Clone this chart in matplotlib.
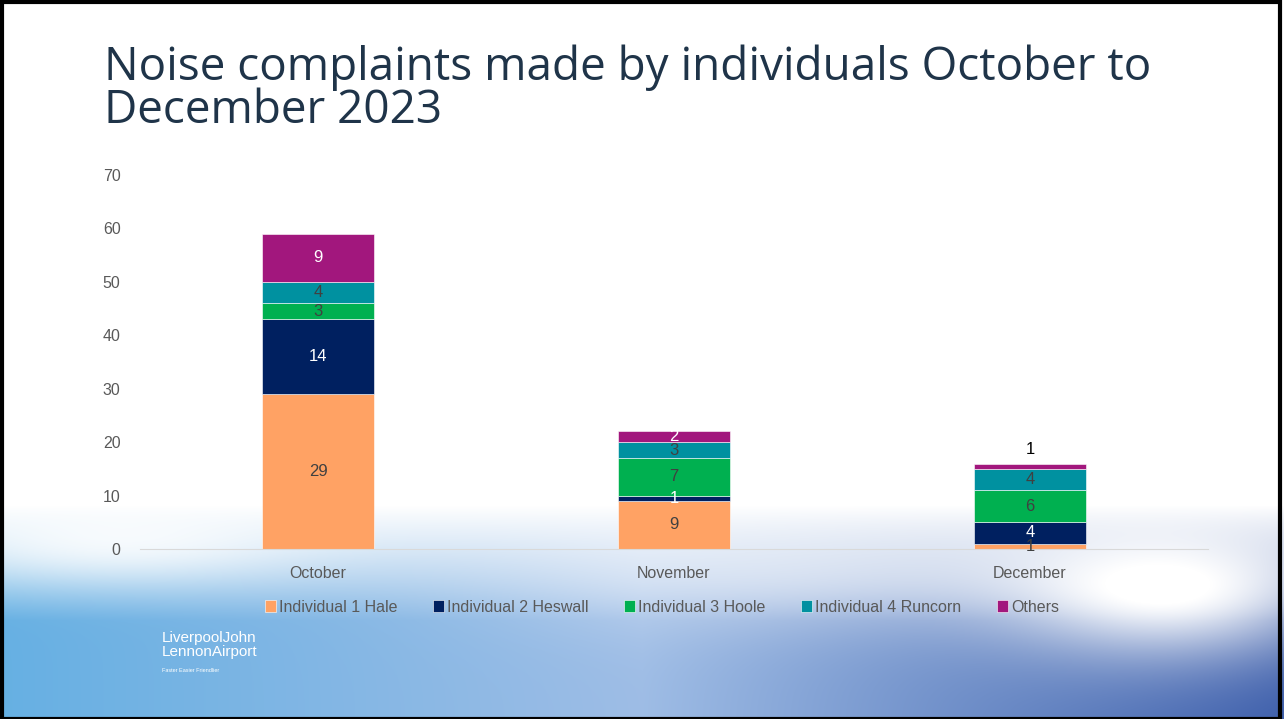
import numpy as np
import matplotlib
matplotlib.use("Agg")
import matplotlib.pyplot as plt
from matplotlib.patches import Rectangle

# data
months = ["October", "November", "December"]
series = ["Individual 1 Hale", "Individual 2 Heswall", "Individual 3 Hoole",
          "Individual 4 Runcorn", "Others"]
hale = [29, 9, 1]
heswall = [14, 1, 4]
hoole = [3, 7, 6]
runcorn = [4, 3, 4]
others = [9, 2, 1]

colors = ["#FFA264", "#002060", "#00B050", "#0091A0", "#A2177D"]
label_colors = ["#404040", "white", "#404040", "#404040", "white"]

plt.rcParams['font.family'] = ['Liberation Sans', 'DejaVu Sans']

W, H = 1284, 719
fig = plt.figure(figsize=(W / 100, H / 100), dpi=100)

# -------------------------------
# background: white slide with blue sky at the bottom
# -------------------------------
Y, X = np.mgrid[0:H, 0:W].astype(float)
t = np.clip((Y - 505) / 115, 0, 1) ** 1.0
xf = X / W
c_left = np.array([0.40, 0.69, 0.89])
c_mid = np.array([0.62, 0.74, 0.90])
c_right = np.array([0.24, 0.37, 0.67])
wl = np.clip(1 - 2 * xf, 0, 1)[..., None]
wr = np.clip(2 * xf - 1, 0, 1)[..., None]
wm = 1 - wl - wr
col = wl * c_left + wm * c_mid + wr * c_right
cloud = (np.exp(-((X - 1170) ** 2 / (2 * 120 ** 2) + (Y - 585) ** 2 / (2 * 50 ** 2)))
         + 0.8 * np.exp(-((X - 120) ** 2 / (2 * 140 ** 2) + (Y - 540) ** 2 / (2 * 30 ** 2)))
         + 0.45 * np.exp(-((X - 800) ** 2 / (2 * 200 ** 2) + (Y - 575) ** 2 / (2 * 40 ** 2))))
s = (t * (1 - np.clip(cloud, 0, 1)))[..., None]
img = 1 - s * (1 - col)
bg = fig.add_axes([0, 0, 1, 1], zorder=-1)
bg.imshow(img, aspect="auto", extent=(0, 1, 0, 1))
bg.set_xlim(0, 1)
bg.set_ylim(0, 1)
bg.axis("off")

# frame
fig.patches.append(Rectangle((0.0015, 0.0), 0.9955, 0.997, transform=fig.transFigure,
                             fill=False, edgecolor="black", linewidth=3))

# title
fig.text(104 / W, 1 - 80 / H, "Noise complaints made by individuals October to",
         fontsize=33, color="#1F3449", family=['Open Sans', 'DejaVu Sans'],
         ha="left", va="baseline")
fig.text(104 / W, 1 - 123 / H, "December 2023",
         fontsize=33, color="#1F3449", family=['Open Sans', 'DejaVu Sans'],
         ha="left", va="baseline")

# -------------------------------
# stacked bars
# -------------------------------
ax = fig.add_axes([140 / W, 170 / H, 1068 / W, 374 / H])
ax.patch.set_alpha(0)
x = np.arange(len(months))
bottom = np.zeros(len(months))
data = [hale, heswall, hoole, runcorn, others]
for vals, name, c, lc in zip(data, series, colors, label_colors):
    vals = np.array(vals)
    ax.bar(x, vals, 0.312, bottom=bottom, color=c, label=name,
           edgecolor="white", linewidth=0.4)
    for i, v in enumerate(vals):
        if name == "Others" and v == 1:
            ax.text(x[i], bottom[i] + v + 2.6, str(v), ha="center", va="center",
                    fontsize=12, color="black")
        else:
            ax.text(x[i], bottom[i] + v / 2, str(v), ha="center", va="center",
                    fontsize=12, color=lc)
    bottom = bottom + vals

ax.set_xlim(-0.5, 2.5)
ax.set_ylim(0, 70)
ax.set_yticks(range(0, 71, 10))
ax.set_xticks(x)
ax.set_xticklabels(months)
ax.tick_params(axis="both", length=0, labelsize=11.5, colors="#595959")
ax.tick_params(axis="x", pad=12)
ax.tick_params(axis="y", pad=14)
for sp in ["top", "right", "left"]:
    ax.spines[sp].set_visible(False)
ax.spines["bottom"].set_color("#D9D9D9")

ax.legend(loc="center", bbox_to_anchor=(662 / W, 1 - 607 / H), bbox_transform=fig.transFigure,
          ncol=5, frameon=False, fontsize=11.5, labelcolor="#595959",
          handlelength=0.7, handleheight=0.7, handletextpad=0.2, columnspacing=2.2)

# logo text
fig.text(162 / W, 1 - 645 / H, "LiverpoolJohn\nLennonAirport", color="white",
         fontsize=11, ha="left", va="center", linespacing=1.0)
fig.text(162 / W, 1 - 671 / H, "Faster Easier Friendlier", color="white",
         fontsize=4, ha="left", va="center")

fig.savefig("out.png", dpi=100)
